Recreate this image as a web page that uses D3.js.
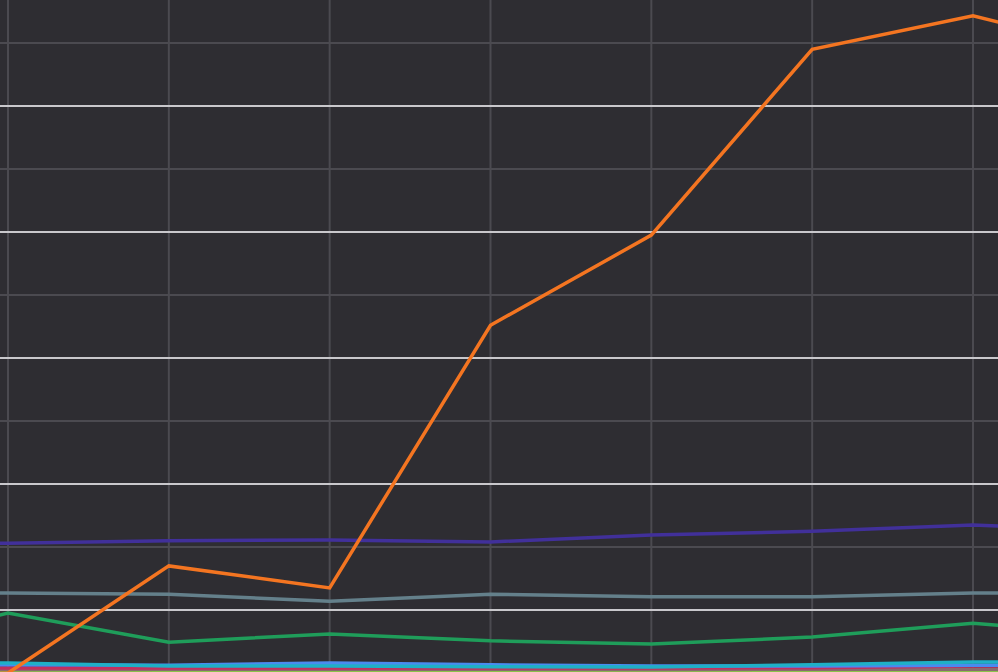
<!DOCTYPE html>
<html>
<head>
<meta charset="utf-8">
<script src="https://cdn.jsdelivr.net/npm/d3@7"></script>
<style>
  html, body { margin: 0; padding: 0; background: #2e2d32; overflow: hidden; }
  svg { display: block; }
</style>
</head>
<body>
<svg id="chart" width="998" height="672"></svg>
<script>
// category positions (index -1 and 7 sit just outside the visible crop)
const steps = [-1, 0, 1, 2, 3, 4, 5, 6, 7];

const orangeVals  = [-2.0, 0.0, 17.0, 13.5, 55.2, 69.5, 99.0, 104.3, 98.1];
const purpleVals  = [20.5, 20.6, 21.0, 21.1, 20.8, 21.9, 22.5, 23.5, 22.5];
const slateVals   = [12.6, 12.7, 12.5, 11.4, 12.5, 12.1, 12.1, 12.7, 12.7];
const greenVals   = [3.5, 9.5, 4.9, 6.2, 5.1, 4.6, 5.7, 7.9, 5.9];
const cyanVals    = [1.6, 1.6, 1.1, 1.1, 1.0, 0.95, 1.3, 1.75, 1.8];
const blueVals    = [1.3, 1.3, 1.25, 1.6, 1.3, 1.1, 1.1, 1.25, 1.25];
const magentaVals = [0.8, 0.8, 0.8, 0.8, 0.8, 0.8, 0.85, 1.1, 1.1];
const brownVals   = [0.55, 0.55, 0.6, 0.6, 0.6, 0.55, 0.6, 0.6, 0.6];
const limeVals    = [0.3, 0.3, 0.3, 0.3, 0.3, 0.3, 0.3, 0.3, 0.3];

const gridTicks = d3.range(0, 110, 10);

const series = [
  {name: "lime",    color: "#8bc34a", values: limeVals},
  {name: "brown",   color: "#8a6b6e", values: brownVals},
  {name: "magenta", color: "#c2305e", values: magentaVals},
  {name: "blue",    color: "#4a8bef", values: blueVals},
  {name: "cyan",    color: "#1fb0c6", values: cyanVals},
  {name: "green",   color: "#1f9d5a", values: greenVals},
  {name: "slate",   color: "#64808b", values: slateVals},
  {name: "purple",  color: "#41309a", values: purpleVals},
  {name: "orange",  color: "#f47521", values: orangeVals}
];

const width = 998, height = 672;
const svg = d3.select("#chart");

const x = d3.scaleLinear().domain([0, 6]).range([8, 973]);
const y = d3.scaleLinear().domain([0, 100]).range([673, 43]);

svg.append("rect")
    .attr("width", width)
    .attr("height", height)
    .attr("fill", "#2e2d32");

// vertical grid
svg.append("g")
    .selectAll("line")
    .data(d3.range(0, 7))
    .enter()
    .append("line")
    .attr("x1", d => x(d)).attr("x2", d => x(d))
    .attr("y1", 0).attr("y2", height)
    .style("stroke", "#4b4a50")
    .style("stroke-width", 2);

// horizontal grid, every other line brighter
svg.append("g")
    .selectAll("line")
    .data(gridTicks)
    .enter()
    .append("line")
    .attr("x1", 0).attr("x2", width)
    .attr("y1", d => y(d)).attr("y2", d => y(d))
    .style("stroke", d => (d / 10) % 2 === 1 ? "#c9c8cc" : "#4b4a50")
    .style("stroke-width", 2);

const line = d3.line()
    .x((d, i) => x(steps[i]))
    .y(d => y(d));

svg.append("g")
    .selectAll("path")
    .data(series)
    .enter()
    .append("path")
    .attr("d", s => line(s.values))
    .style("fill", "none")
    .style("stroke", s => s.color)
    .style("stroke-width", 3.5)
    .style("stroke-linejoin", "miter");
</script>
</body>
</html>
